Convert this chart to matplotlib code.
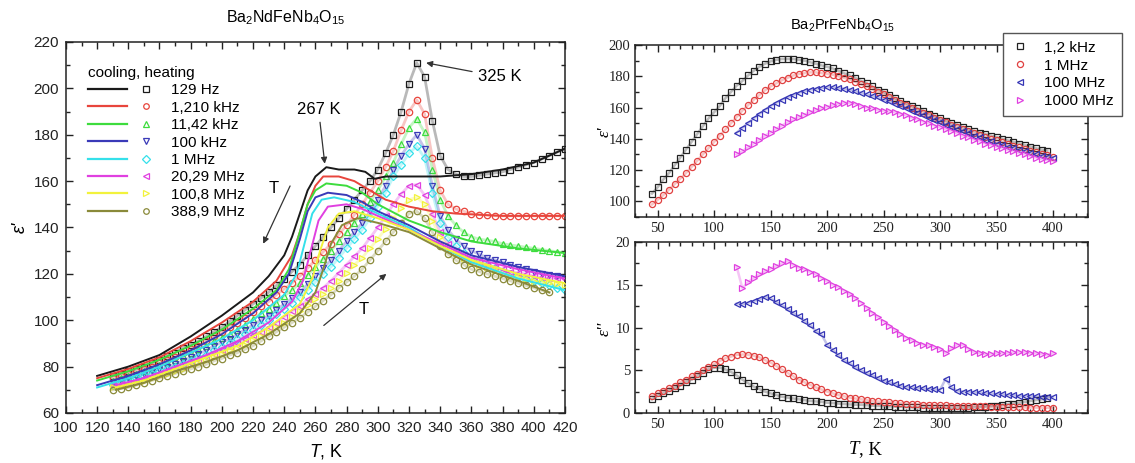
import numpy as np
import matplotlib
matplotlib.use("Agg")
import matplotlib.pyplot as plt
from matplotlib.lines import Line2D
from matplotlib.legend_handler import HandlerTuple
from matplotlib.ticker import MultipleLocator

plt.rcParams['mathtext.fontset'] = 'custom'
plt.rcParams['mathtext.rm'] = 'Liberation Sans'
plt.rcParams['mathtext.it'] = 'Liberation Sans:italic'
plt.rcParams['font.family'] = ['Liberation Sans', 'DejaVu Sans']

nan = np.nan
# ---------------- Left panel: Ba2NdFeNb4O15 ----------------
labels_left = ["129 Hz", "1,210 kHz", "11,42 kHz", "100 kHz", "1 MHz",
               "20,29 MHz", "100,8 MHz", "388,9 MHz"]
T_heat = np.arange(130, 421, 5)  # heating measurement temperatures (K)

heat_129Hz = [76, 77, 78, 79, 80, 81.5, 83, 84.5, 86, 88,
              89.5, 91, 93, 95, 97, 99.5, 102, 104.5, 107, 109.5,
              112, 115, 118, 121, 124, 128, 132, 136, 140, 144,
              148, 152, 156, 160, 165, 172, 180, 190, 202, 211,
              205, 186, 171, 165, 163, 162, 162, 162.5, 163, 163.5,
              164, 165, 166, 167, 168, 169.5, 171, 172.5, 174]
heat_1210kHz = [75, 76, 77, 78, 79, 80, 81.5, 83, 84, 86,
                87.5, 89, 91, 93, 95, 97, 99, 101, 103.5, 106,
                108, 111, 113.5, 116, 119, 122.5, 126, 129.5, 133, 137,
                141, 145.5, 150, 155, 160, 166, 173, 182, 190, 195,
                189, 170, 156, 150, 148, 147, 146, 145.5, 145.3, 145.1,
                145, 145, 145, 145, 145, 145, 145, 145, 145]
heat_1142kHz = [74, 75, 76, 77, 78, 79, 80.5, 82, 83, 84.5,
                86, 87.5, 89, 91, 92.5, 94, 96, 98, 100.5, 103,
                105, 107.5, 110.5, 113, 116, 119.5, 123, 126.5, 130, 134,
                138, 142, 146, 151, 156, 162, 168, 176, 183, 187,
                181, 165, 152, 145, 141, 138, 136, 135, 134.5, 134,
                133, 132.5, 132, 131.5, 131, 130.5, 130, 129.5, 129]
heat_100kHz = [73, 74, 75, 76, 77, 78, 79, 80, 81, 82.5,
               84, 85.5, 87, 89, 90.5, 92, 94, 96, 98, 100,
               102, 104.5, 107, 109.5, 112, 115.5, 119, 122.5, 126, 130,
               134, 138, 142, 147, 152, 158, 165, 171, 176, 180,
               174, 158, 145, 139, 135, 132, 130, 128.5, 127, 126,
               125, 124, 123, 122, 121, 120, 119.5, 119, 118]
heat_1MHz = [72, 73, 74, 75, 76, 77, 78, 79, 80, 81,
             82.5, 84, 85, 87, 88.5, 90, 92, 94, 96, 98,
             100, 102.5, 105, 107.5, 110, 113, 116.5, 120, 123, 127,
             131, 135, 139, 144, 149, 155, 162, 167, 172, 175,
             170, 155, 142, 136, 132, 129, 127, 125.5, 124, 122.5,
             121, 120, 119, 118, 117, 116, 115, 114, 113]
heat_2029MHz = [72, 72.5, 73, 74, 75, 76, 77, 78, 79, 80,
                81.5, 83, 84, 85.5, 87, 88.5, 90, 92, 93.5, 95,
                97, 99, 101.5, 104, 106, 109, 111.5, 114, 117, 120.5,
                124, 127.5, 131, 135.5, 140, 145, 150, 154.5, 158, 158.5,
                154, 146, 138, 133, 130, 128, 126, 125, 124, 123,
                122, 121, 120.5, 120, 119, 118.5, 118.3, 118.1, 118]
heat_1008MHz = [71, 71.5, 72, 73, 74, 75, 76, 77, 78, 79,
                80.5, 81.5, 83, 84, 85.5, 87, 88, 89.5, 91.5, 93,
                95, 97, 99, 101.5, 104, 106.5, 109, 111.5, 114, 117,
                120.5, 124, 127, 131, 135, 139.5, 144, 148.5, 152, 153,
                150, 143, 136, 132, 129, 127, 125, 124, 123, 121.5,
                120, 119, 118.5, 118, 117, 116.5, 116, 115.5, 115]
heat_3889MHz = [70, 70.5, 71, 72, 73, 74, 75, 76, 77, 78,
                79, 80, 81, 82.5, 83.5, 85, 86, 87.5, 89, 91,
                93, 95, 97, 99, 101, 103.5, 106, 108.5, 111, 114,
                116.5, 119, 122, 126, 130, 134, 138, 142, 146, 147,
                144, 138, 132, 128.5, 126, 124, 122, 121, 120, 119,
                118, 117, 116, 115, 114, 113, 112, nan, nan]

cool_T_129Hz = [120, 140, 160, 180, 200, 220, 230, 240, 245, 250, 255, 260, 267, 275,
                285, 292, 298, 305, 320, 340, 360, 380, 400, 420]
cool_129Hz = [76, 80, 85, 93, 102, 112, 119, 128, 136, 146, 156, 162, 166, 165,
              165, 164, 161, 162, 162, 162, 163, 165, 168, 174]
cool_T_1210kHz = [120, 140, 160, 180, 200, 220, 235, 245, 250, 255, 260, 265, 275, 285,
                  295, 305, 320, 335, 350, 380, 420]
cool_1210kHz = [75, 79, 84, 91, 99, 108, 117, 128, 138, 150, 158, 162, 162, 160,
                156, 152, 149, 147, 146, 145, 145]
cool_T_1142kHz = [120, 140, 160, 180, 200, 220, 235, 243, 250, 255, 260, 267, 280, 290,
                  300, 320, 340, 360, 390, 420]
cool_1142kHz = [74, 78, 83, 89, 96, 105, 113, 122, 138, 150, 156, 159, 158, 155,
                150, 143, 138, 134, 131, 129]
cool_T_100kHz = [120, 140, 160, 180, 200, 220, 235, 243, 250, 255, 260, 268, 280, 290,
                 300, 320, 340, 360, 390, 420]
cool_100kHz = [72, 76, 81, 87, 94, 103, 112, 120, 135, 147, 153, 155, 154, 151,
               147, 141, 134, 128, 123, 119]
cool_T_1MHz = [120, 140, 160, 180, 200, 220, 240, 248, 253, 258, 264, 272, 285, 300,
               320, 340, 360, 390, 420]
cool_1MHz = [71, 75, 80, 86, 92, 100, 111, 120, 133, 146, 152, 153, 151, 146,
             140, 132, 125, 118, 113]
cool_T_2029MHz = [132, 150, 170, 190, 210, 230, 245, 252, 257, 262, 268, 280, 290, 300,
                  320, 340, 360, 390, 420]
cool_2029MHz = [72, 75, 80, 85, 91, 99, 108, 117, 130, 143, 149, 150, 148, 145,
                139, 133, 127, 122, 118]
cool_T_1008MHz = [132, 150, 170, 190, 210, 230, 250, 258, 263, 268, 275, 285, 300, 320,
                  340, 360, 390, 420]
cool_1008MHz = [71, 74, 79, 84, 89, 97, 107, 118, 130, 140, 146, 147, 144, 139,
                132, 126, 120, 116]
cool_T_3889MHz = [132, 150, 170, 190, 210, 230, 250, 260, 265, 270, 277, 287, 300, 320,
                  340, 360, 390, 410]
cool_3889MHz = [70, 73, 78, 82, 87, 94, 103, 112, 122, 133, 141, 144, 142, 138,
                131, 124, 117, 112]

# ---------------- Right panels: Ba2PrFeNb4O15 ----------------
labels_right = ["1,2 kHz", "1 MHz", "100 MHz", "1000 MHz"]
T_r_12kHz = np.arange(45, 396, 5)
T_r_1MHz = np.arange(45, 401, 5)
T_r_hf = np.arange(120, 401, 5)

epsr_12kHz = [105, 109, 114, 118, 123, 128, 133, 138, 143, 148,
              153, 157, 161, 166, 170, 174, 177, 180.5, 183.5, 186,
              188, 189.5, 190.5, 191, 191, 191, 190.5, 190, 189, 188,
              187, 186, 185, 183.5, 182, 180.5, 179, 177, 175.5, 173.5,
              171.5, 170, 168, 166, 164, 162.5, 161, 159.5, 158, 156,
              154.5, 153, 151.5, 150, 149, 147.5, 146, 145, 144, 143,
              142, 141, 140, 139, 138, 137, 136, 135, 134, 133, 132.5]
epsr_1MHz = [98, 101, 104, 107.5, 111, 114.5, 118, 122, 126, 130,
             134, 138, 142, 146, 150, 154, 158, 161.5, 165, 168,
             171, 173.5, 175.5, 177.5, 179, 180.5, 181.5, 182, 182.5, 182.5,
             182, 181.5, 181, 180, 179, 178, 176.5, 175, 173.5, 172,
             170, 168.5, 166.5, 165, 163, 161.5, 160, 158, 156.5, 155,
             153.5, 152, 150.5, 149, 147.5, 146, 145, 143.5, 142.5, 141,
             140, 139, 138, 136.5, 135.5, 134.5, 133.5, 132.5, 131.5, 130.5,
             129.5, 128.5]
epsr_100MHz = [144, 147, 150, 153, 156, 158.5, 161, 163, 165, 166.5,
               168, 169.5, 170.5, 171.5, 172, 172.5, 173, 173, 172.5, 172,
               171.5, 170.5, 169.5, 168.5, 167.5, 166.5, 165, 164, 162.5, 161,
               159.5, 158, 156.5, 155, 153.5, 152, 150.5, 149, 147.5, 146,
               145, 143.5, 142, 141, 139.5, 138.5, 137, 136, 135, 134,
               133, 132, 131, 130, 129, 128.5, 128]
epsr_1000MHz = [130, 132, 134.5, 137, 139.5, 142, 144, 146.5, 148.5, 150.5,
                152.5, 154, 155.5, 157, 158.5, 159.5, 160.5, 161.5, 162.5, 163,
                163, 162.5, 161, 160, 159.5, 158.5, 158, 157.5, 157, 156,
                155, 153.5, 152.5, 151, 150, 148.5, 147.5, 146, 145, 143.5,
                142, 141, 139.5, 138.5, 137, 136, 135, 134, 133, 132,
                131, 130, 129, 128, 127, 126.5, 126]

epsi_12kHz = [1.6, 2.0, 2.3, 2.6, 2.9, 3.2, 3.6, 3.9, 4.3, 4.7,
              5.1, 5.3, 5.3, 5.1, 4.8, 4.4, 3.9, 3.5, 3.1, 2.8,
              2.5, 2.3, 2.1, 1.9, 1.8, 1.7, 1.6, 1.5, 1.4, 1.35,
              1.3, 1.2, 1.15, 1.1, 1.05, 1.0, 0.97, 0.95, 0.9, 0.85,
              0.82, 0.8, 0.77, 0.75, 0.72, 0.7, 0.68, 0.66, 0.64, 0.62,
              0.6, 0.6, 0.6, 0.6, 0.6, 0.62, 0.64, 0.66, 0.7, 0.75,
              0.8, 0.87, 0.95, 1.03, 1.1, 1.2, 1.3, 1.4, 1.5, 1.6, 1.7]
epsi_1MHz = [2.0, 2.3, 2.6, 2.9, 3.2, 3.6, 3.9, 4.3, 4.6, 5.0,
             5.4, 5.7, 6.1, 6.4, 6.6, 6.8, 6.85, 6.8, 6.7, 6.5,
             6.2, 5.9, 5.5, 5.1, 4.7, 4.3, 3.9, 3.6, 3.3, 3.0,
             2.75, 2.5, 2.3, 2.1, 1.95, 1.8, 1.7, 1.6, 1.5, 1.4,
             1.35, 1.3, 1.25, 1.2, 1.15, 1.1, 1.05, 1.0, 0.98, 0.95,
             0.92, 0.9, 0.88, 0.86, 0.84, 0.82, 0.8, 0.8, 0.78, 0.76,
             0.75, 0.73, 0.72, 0.7, 0.68, 0.67, 0.65, 0.64, 0.63, 0.62,
             0.61, 0.6]
epsi_100MHz = [12.8, 12.7, 12.9, 13.1, 13.3, 13.6, 13.4, 13.0, 12.6, 12.2,
               11.7, 11.3, 10.8, 10.3, 9.6, 9.2, 8.0, 7.4, 6.8, 6.2,
               5.8, 5.4, 5.0, 4.7, 4.4, 4.1, 3.8, 3.6, 3.4, 3.2,
               3.0, 3.0, 2.9, 2.9, 2.8, 2.8, 2.7, 4.0, 3.0, 2.6,
               2.5, 2.5, 2.4, 2.4, 2.3, 2.3, 2.2, 2.2, 2.1, 2.1,
               2.0, 2.0, 2.0, 1.95, 1.9, 1.9, 1.9]
epsi_1000MHz = [17.1, 14.6, 15.3, 15.8, 16.2, 16.6, 16.9, 17.2, 17.5, 17.8,
                17.3, 17.0, 16.8, 16.5, 16.2, 15.8, 15.4, 15.0, 14.7, 14.3,
                13.9, 13.4, 12.9, 12.3, 11.7, 11.2, 10.7, 10.2, 9.7, 9.2,
                8.8, 8.5, 8.2, 8.0, 7.9, 7.7, 7.5, 7.0, 7.6, 8.0,
                8.0, 7.5, 7.1, 7.0, 6.9, 6.9, 7.0, 7.0, 7.0, 7.1,
                7.1, 7.1, 7.0, 7.0, 6.9, 6.8, 7.0]

# ---------------- styles ----------------
colors_left = ['#1a1a1a', '#e8453c', '#3ddc3d', '#3a3ab8', '#35e0ea',
               '#e040e0', '#f2f23c', '#8a8a3a']
markers_left = ['s', 'o', '^', 'v', 'D', '<', '>', 'o']
colors_right = ['#222222', '#e04040', '#3535b5', '#e040e0']
markers_right = ['s', 'o', '<', '>']

fig = plt.figure(figsize=(11.35, 4.63), dpi=100)

# ===== Left axes =====
ax = fig.add_axes([0.0581, 0.108, 0.4396, 0.8013])
heat = [heat_129Hz, heat_1210kHz, heat_1142kHz, heat_100kHz, heat_1MHz,
        heat_2029MHz, heat_1008MHz, heat_3889MHz]
coolT = [cool_T_129Hz, cool_T_1210kHz, cool_T_1142kHz, cool_T_100kHz, cool_T_1MHz,
         cool_T_2029MHz, cool_T_1008MHz, cool_T_3889MHz]
coolV = [cool_129Hz, cool_1210kHz, cool_1142kHz, cool_100kHz, cool_1MHz,
         cool_2029MHz, cool_1008MHz, cool_3889MHz]
handles = []
for i in range(8):
    c = colors_left[i]
    ms = 4.0 if markers_left[i] == 'D' else 4.6
    # faint band behind the heating markers (the original points are very dense)
    ax.plot(T_heat, heat[i], color=c, lw=2.0, alpha=0.3, zorder=2 + i * 0.1)
    ax.plot(T_heat, heat[i], ls='none', marker=markers_left[i], mfc='none',
            mec=c, ms=ms, mew=0.9, zorder=2 + i * 0.1)
    ax.plot(coolT[i], coolV[i], color=c, lw=1.4, zorder=3 + i * 0.1)
    h_line = Line2D([], [], color=c, lw=1.6)
    h_mk = Line2D([], [], ls='none', marker=markers_left[i], mfc='none', mec=c,
                  ms=4, mew=0.9)
    handles.append((h_line, h_mk))

ax.set_xlim(100, 420)
ax.set_ylim(60, 220)
ax.xaxis.set_major_locator(MultipleLocator(20))
ax.xaxis.set_minor_locator(MultipleLocator(10))
ax.yaxis.set_major_locator(MultipleLocator(20))
ax.yaxis.set_minor_locator(MultipleLocator(10))
ax.tick_params(which='both', direction='in', top=True, right=True, width=1,
               labelsize=11, colors='#222222')
ax.tick_params(axis='x', pad=6)
ax.tick_params(axis='y', pad=5)
ax.tick_params(which='major', length=5)
ax.tick_params(which='minor', length=3)
for s in ax.spines.values():
    s.set_linewidth(1.1)
    s.set_color('#222222')

leg = ax.legend(handles, labels_left, handler_map={tuple: HandlerTuple(ndivide=None, pad=0)},
                loc='upper left', bbox_to_anchor=(0.045, 0.935), frameon=False,
                fontsize=11, handlelength=5.0, handletextpad=0.4, labelspacing=0.22,
                title='cooling, heating', title_fontsize=11, alignment='left',
                borderaxespad=0, borderpad=0)

arr = dict(arrowstyle='-|>', color='#333333', lw=0.9, mutation_scale=9, shrinkA=2, shrinkB=0)
ax.annotate('267 K', xy=(266, 167.5), xytext=(262, 191), ha='center', va='center',
            fontsize=12, arrowprops=arr)
ax.annotate('325 K', xy=(331, 211), xytext=(378, 205), ha='center', va='center',
            fontsize=12, arrowprops=arr)
ax.annotate('', xy=(226.5, 133), xytext=(244.5, 159), arrowprops=arr)
ax.text(233, 157, 'T', fontsize=12, ha='center', va='center')
ax.annotate('', xy=(305.5, 120), xytext=(264, 97), arrowprops=arr)
ax.text(291, 104.5, 'T', fontsize=12, ha='center', va='center')

fig.text(0.018, 0.51, "ε'", fontsize=13, style='italic', rotation=90,
         ha='center', va='center')
fig.text(0.282, 0.023, 'T', fontsize=13, style='italic', ha='right', va='center')
fig.text(0.282, 0.023, ', K', fontsize=13, ha='left', va='center')
fig.text(0.252, 0.962, r'Ba$_2$NdFeNb$_4$O$_{15}$', fontsize=11.5, ha='center', va='center')

# ===== Right axes =====
serif = ['Liberation Serif', 'DejaVu Serif']
ax1 = fig.add_axes([0.5595, 0.5313, 0.3991, 0.3715])
ax2 = fig.add_axes([0.5595, 0.108, 0.3991, 0.3693])

Tr = [T_r_12kHz, T_r_1MHz, T_r_hf, T_r_hf]
eps_r = [epsr_12kHz, epsr_1MHz, epsr_100MHz, epsr_1000MHz]
eps_i = [epsi_12kHz, epsi_1MHz, epsi_100MHz, epsi_1000MHz]
for i in range(4):
    kw = dict(ls='none', marker=markers_right[i], mfc='none', mec=colors_right[i],
              ms=4.4, mew=0.9)
    under = dict(color=colors_right[i], lw=1.8, alpha=0.3)
    ax1.plot(Tr[i], eps_r[i], **under)
    ax1.plot(Tr[i], eps_r[i], label=labels_right[i], **kw)
    ax2.plot(Tr[i], eps_i[i], **under)
    ax2.plot(Tr[i], eps_i[i], **kw)

for a in (ax1, ax2):
    a.set_xlim(30, 431)
    a.xaxis.set_major_locator(MultipleLocator(50))
    a.xaxis.set_minor_locator(MultipleLocator(10))
    a.tick_params(which='both', direction='in', top=True, right=True, width=1,
                  labelsize=10.5, colors='#222222')
    a.tick_params(which='major', length=5)
    a.tick_params(which='minor', length=3)
    for lab in a.get_xticklabels() + a.get_yticklabels():
        lab.set_fontfamily(serif)
    for s in a.spines.values():
        s.set_linewidth(1.1)
        s.set_color('#222222')

ax1.set_ylim(90, 200)
ax1.yaxis.set_major_locator(MultipleLocator(20))
ax1.yaxis.set_minor_locator(MultipleLocator(10))
ax2.set_ylim(0, 20)
ax2.yaxis.set_major_locator(MultipleLocator(5))
ax2.yaxis.set_minor_locator(MultipleLocator(2.5))

fig.text(0.533, 0.715, "ε'", fontsize=12.5, style='italic', rotation=90,
         ha='center', va='center', family=serif)
fig.text(0.533, 0.29, "ε''", fontsize=12.5, style='italic', rotation=90,
         ha='center', va='center', family=serif)
fig.text(0.757, 0.03, 'T', fontsize=13.5, style='italic', ha='right', va='center', family=serif)
fig.text(0.757, 0.03, ', K', fontsize=13.5, ha='left', va='center', family=serif)
fig.text(0.742, 0.945, r'Ba$_2$PrFeNb$_4$O$_{15}$', fontsize=10.5, ha='center', va='center')

lg = ax1.legend(loc='upper right', bbox_to_anchor=(0.995, 0.945),
                bbox_transform=fig.transFigure, fontsize=11, frameon=True,
                fancybox=False, edgecolor='#555555', framealpha=1,
                handlelength=1.2, handletextpad=1.0, labelspacing=0.25,
                borderpad=0.5, markerscale=1.0)
lg.get_frame().set_linewidth(1.0)

fig.savefig('out.png', dpi=100)
